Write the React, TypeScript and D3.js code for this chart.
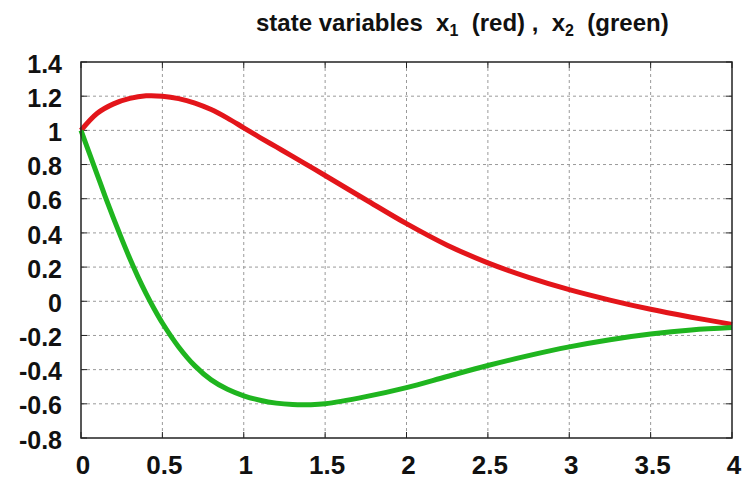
import React from 'react';
import * as d3 from 'd3';

// time points and values
const redT = [0, 0.1, 0.2, 0.3, 0.4, 0.5, 0.6, 0.7, 0.8, 0.9, 1.0, 1.1, 1.2, 1.3, 1.4, 1.5, 1.75, 2.0, 2.25, 2.5, 2.75, 3.0, 3.25, 3.5, 3.75, 4.0];
const redX1 = [1.0, 1.1, 1.155, 1.187, 1.202, 1.2, 1.186, 1.16, 1.122, 1.072, 1.015, 0.958, 0.903, 0.848, 0.792, 0.736, 0.594, 0.454, 0.328, 0.225, 0.14, 0.068, 0.007, -0.047, -0.093, -0.135];

const greenT = [0, 0.05, 0.1, 0.15, 0.2, 0.25, 0.3, 0.35, 0.4, 0.45, 0.5, 0.6, 0.7, 0.8, 0.9, 1.0, 1.1, 1.2, 1.3, 1.4, 1.5, 1.75, 2.0, 2.25, 2.5, 2.75, 3.0, 3.25, 3.5, 3.75, 4.0];
const greenX2 = [1.0, 0.87, 0.74, 0.61, 0.485, 0.365, 0.25, 0.143, 0.045, -0.045, -0.127, -0.267, -0.378, -0.46, -0.515, -0.553, -0.579, -0.596, -0.604, -0.605, -0.6, -0.558, -0.505, -0.44, -0.376, -0.318, -0.267, -0.225, -0.192, -0.168, -0.154];

const xTicks = [0, 0.5, 1, 1.5, 2, 2.5, 3, 3.5, 4];
const yTicks = [-0.8, -0.6, -0.4, -0.2, 0, 0.2, 0.4, 0.6, 0.8, 1, 1.2, 1.4];

const W = 744;
const H = 487;
const margin = { top: 62, right: 12, bottom: 49, left: 81 };
const font = '"Liberation Sans", Arial, sans-serif';

export default function App() {
    const innerW = W - margin.left - margin.right;
    const innerH = H - margin.top - margin.bottom;

    const x = d3.scaleLinear().domain([0, 4]).range([0, innerW]);
    const y = d3.scaleLinear().domain([-0.8, 1.4]).range([innerH, 0]);

    const line = d3.line<[number, number]>()
        .x(d => x(d[0]))
        .y(d => y(d[1]))
        .curve(d3.curveCatmullRom.alpha(0.5));

    const redPts = redT.map((t, i) => [t, redX1[i]] as [number, number]);
    const greenPts = greenT.map((t, i) => [t, greenX2[i]] as [number, number]);

    const fmt = (v: number) => String(+v.toFixed(1));

    return (
        <svg width={W} height={H} style={{ position: 'absolute', left: 0, top: 0, background: '#fff' }}>
            <text x={256} y={31} fontFamily={font} fontWeight="bold" fontSize={24} fill="#111"
                style={{ whiteSpace: 'pre' }}>
                <tspan>state variables  x</tspan>
                <tspan fontSize={16} dy={5}>1</tspan>
                <tspan dy={-5}>  (red) ,  x</tspan>
                <tspan fontSize={16} dy={5}>2</tspan>
                <tspan dy={-5}>  (green)</tspan>
            </text>
            <g transform={`translate(${margin.left},${margin.top})`}>
                {/* grid */}
                {xTicks.slice(1, -1).map(t => (
                    <line key={'gx' + t} x1={x(t)} x2={x(t)} y1={0} y2={innerH}
                        stroke="#9a9a9a" strokeWidth={1} strokeDasharray="3 3" />
                ))}
                {yTicks.slice(1, -1).map(t => (
                    <line key={'gy' + t} x1={0} x2={innerW} y1={y(t)} y2={y(t)}
                        stroke="#9a9a9a" strokeWidth={1} strokeDasharray="3 3" />
                ))}
                {/* inner tick marks */}
                {xTicks.map(t => (
                    <g key={'tx' + t}>
                        <line x1={x(t)} x2={x(t)} y1={innerH} y2={innerH - 6} stroke="#222" />
                        <line x1={x(t)} x2={x(t)} y1={0} y2={6} stroke="#222" />
                    </g>
                ))}
                {yTicks.map(t => (
                    <g key={'ty' + t}>
                        <line x1={0} x2={6} y1={y(t)} y2={y(t)} stroke="#222" />
                        <line x1={innerW} x2={innerW - 6} y1={y(t)} y2={y(t)} stroke="#222" />
                    </g>
                ))}
                <path d={line(redPts) || ''} fill="none" stroke="#e3151a" strokeWidth={5} strokeLinejoin="round" />
                <path d={line(greenPts) || ''} fill="none" stroke="#1fb51f" strokeWidth={5} strokeLinejoin="round" />
                <rect x={0} y={0} width={innerW} height={innerH} fill="none" stroke="#222" strokeWidth={1.5} />
                {/* tick labels */}
                {yTicks.map(t => (
                    <text key={'ly' + t} x={-19} y={y(t) + 4} textAnchor="end" dominantBaseline="middle"
                        fontFamily={font} fontWeight="bold" fontSize={25} fill="#111">{fmt(t)}</text>
                ))}
                {xTicks.map(t => (
                    <text key={'lx' + t} x={x(t) + 2} y={innerH + 29} textAnchor="middle" dominantBaseline="middle"
                        fontFamily={font} fontWeight="bold" fontSize={26} fill="#111">{fmt(t)}</text>
                ))}
            </g>
        </svg>
    );
}
